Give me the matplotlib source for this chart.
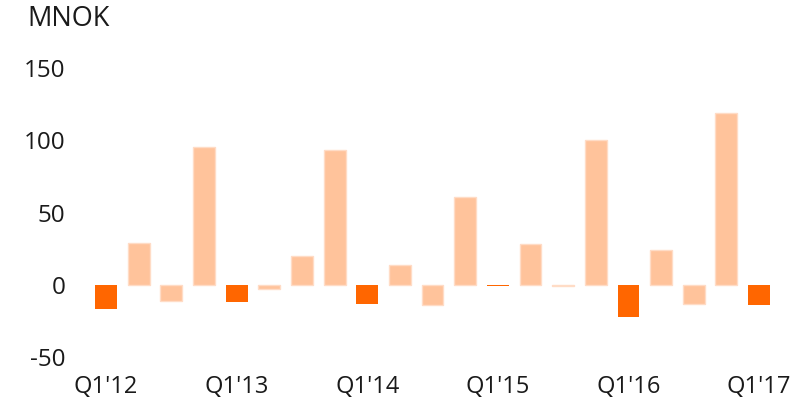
import matplotlib.pyplot as plt
import numpy as np

# quarterly values, MNOK (Q1'12 .. Q1'17)
quarters = ["Q1'12", "Q2'12", "Q3'12", "Q4'12",
            "Q1'13", "Q2'13", "Q3'13", "Q4'13",
            "Q1'14", "Q2'14", "Q3'14", "Q4'14",
            "Q1'15", "Q2'15", "Q3'15", "Q4'15",
            "Q1'16", "Q2'16", "Q3'16", "Q4'16",
            "Q1'17"]
values = [-17, 29, -11, 95,
          -12, -3, 20, 93,
          -13, 14, -14, 61,
          -0.6, 28, -1, 100,
          -22, 24, -13, 119,
          -14]
y_ticks = [-50, 0, 50, 100, 150]

dark = '#FF6600'
light = '#FFC39B'

plt.rcParams['font.family'] = ['Open Sans', 'DejaVu Sans']

fig = plt.figure(figsize=(7.95, 4.04), dpi=100)
ax = fig.add_axes([75 / 795, 47 / 404, 720 / 795, 289 / 404])

x = np.arange(len(values))
colors = [dark if q.startswith('Q1') else light for q in quarters]
edges = ['none' if q.startswith('Q1') else '#FFDCC6' for q in quarters]
ax.bar(x, values, width=0.67, color=colors, edgecolor=edges, linewidth=1)

ax.set_ylim(-50, 150)
ax.set_xlim(-0.95, 21.1)
ax.set_yticks(y_ticks)
ax.set_yticklabels([str(v) for v in y_ticks], fontsize=17.5, color='#1a1a1a')

q1_pos = [i for i, q in enumerate(quarters) if q.startswith('Q1')]
ax.set_xticks(q1_pos)
ax.set_xticklabels([quarters[i] for i in q1_pos], fontsize=17, color='#1a1a1a')
ax.tick_params(axis='both', length=0)
ax.tick_params(axis='y', pad=7)
ax.tick_params(axis='x', pad=13)

for s in ax.spines.values():
    s.set_visible(False)

fig.text(27 / 795, 1 - 5 / 404, 'MNOK', fontsize=19.5, color='#1a1a1a', va='top', ha='left')

fig.savefig('out.png', dpi=100)
